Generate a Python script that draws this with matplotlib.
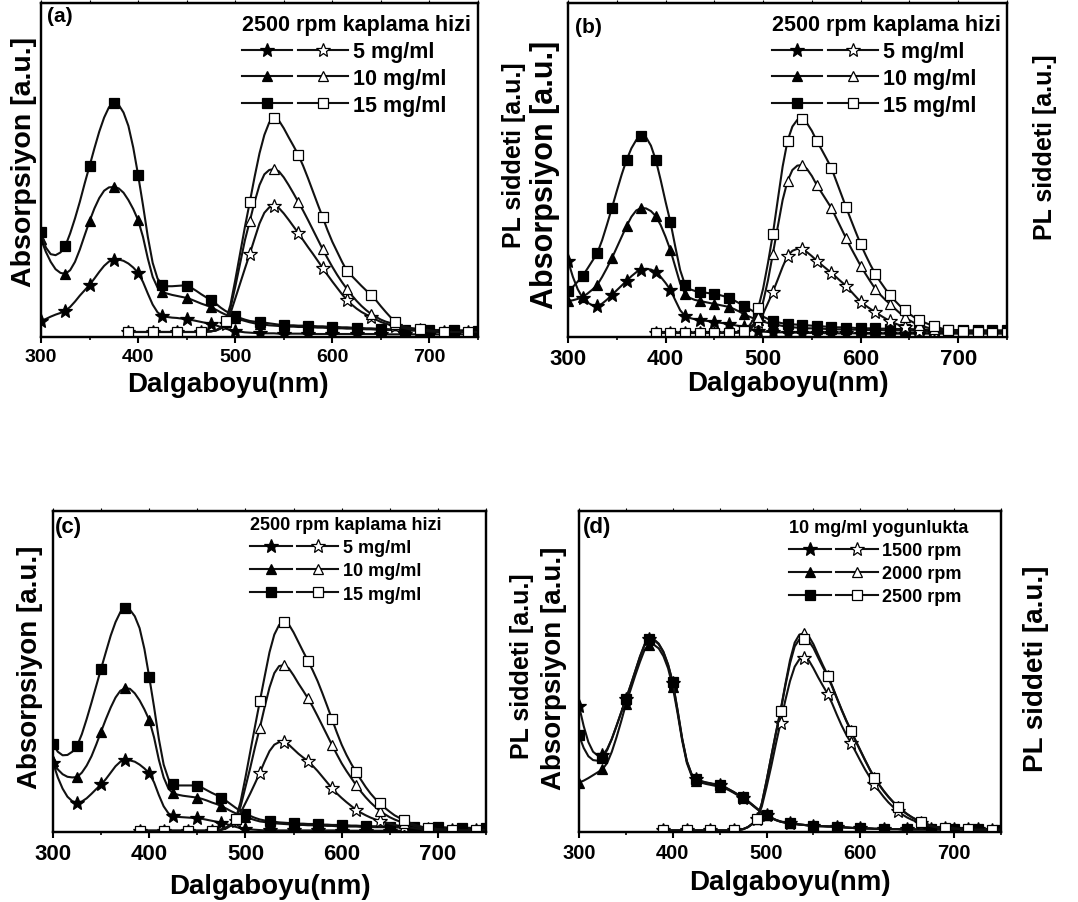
import matplotlib
matplotlib.use("Agg")
import matplotlib.pyplot as plt
from matplotlib.legend_handler import HandlerTuple
from matplotlib.ticker import MultipleLocator

plt.rcParams["font.family"] = ["Liberation Sans", "DejaVu Sans"]
plt.rcParams["font.weight"] = "bold"
plt.rcParams["axes.labelweight"] = "bold"

# wavelength grids (nm)
WL_ABS = list(range(300, 751, 5))
WL_PL = list(range(390, 751, 5))

# values in arbitrary units (per-mille of panel height)
# ---- (a) ----
ABS_5_A = [48, 54, 61, 67, 72, 78, 90, 106, 124, 140, 156, 175, 195, 213, 226,
           231, 232, 228, 220, 208, 192, 165, 130, 97, 74, 63, 60, 58, 57, 55,
           54, 51, 48, 45, 42, 39, 35, 30, 25, 21, 18, 16, 14, 13, 12,
           12, 11, 11, 11, 10, 10, 10, 10, 10, 10, 10, 9, 9, 9, 9,
           9, 9, 9, 9, 9, 9, 9, 9, 9, 9, 9, 8, 8, 8, 8,
           8, 8, 8, 8, 8, 8, 8, 8, 8, 8, 8, 8, 8, 8, 8, 8]
ABS_10_A = [293, 255, 225, 203, 192, 189, 200, 225, 262, 305, 347, 385, 416, 438, 448,
            449, 445, 432, 410, 383, 350, 300, 235, 180, 148, 135, 130, 126, 123, 120,
            117, 112, 106, 100, 95, 90, 82, 74, 67, 61, 57, 52, 48, 44, 41,
            39, 37, 35, 34, 33, 32, 31, 31, 30, 30, 29, 29, 28, 28, 27,
            27, 26, 26, 25, 25, 24, 24, 23, 23, 22, 22, 21, 21, 20, 20,
            20, 19, 19, 19, 18, 18, 18, 18, 18, 17, 17, 17, 17, 16, 16, 16]
ABS_15_A = [314, 268, 248, 245, 253, 272, 310, 355, 405, 460, 512, 565, 615, 657, 688,
            701, 695, 672, 632, 567, 485, 395, 300, 222, 175, 156, 152, 152, 153, 154,
            153, 147, 138, 128, 119, 111, 100, 88, 78, 70, 63, 57, 52, 48, 46,
            45, 43, 41, 39, 37, 36, 35, 35, 34, 34, 33, 33, 32, 32, 31,
            30, 30, 29, 29, 28, 27, 27, 26, 26, 25, 24, 24, 23, 23, 22,
            21, 21, 21, 21, 21, 21, 21, 21, 21, 21, 21, 20, 20, 19, 19, 18]
PL_5_A = [15, 15, 15, 15, 15, 15, 15, 15, 15, 15, 15, 15, 15, 15, 15,
          15, 16, 17, 19, 25, 40, 70, 115, 160, 205, 249, 295, 340, 372, 388,
          392, 386, 370, 351, 331, 311, 290, 269, 249, 228, 207, 186, 166, 147, 128,
          111, 97, 85, 75, 67, 60, 52, 45, 40, 36, 33, 29, 26, 23, 21,
          20, 18, 17, 16, 15, 15, 15, 15, 15, 15, 15, 15, 15]
PL_10_A = [15, 15, 15, 15, 15, 15, 15, 15, 15, 15, 15, 15, 15, 15, 15,
           15, 16, 17, 20, 27, 45, 85, 150, 220, 290, 347, 405, 455, 487, 500,
           503, 496, 478, 455, 430, 404, 378, 350, 321, 292, 263, 236, 210, 186, 164,
           144, 125, 108, 93, 80, 69, 60, 52, 46, 42, 39, 34, 29, 26, 24,
           22, 20, 18, 17, 16, 15, 15, 15, 15, 15, 15, 15, 15]
PL_15_A = [15, 15, 15, 15, 15, 15, 15, 15, 15, 15, 15, 15, 15, 15, 15,
           15, 16, 17, 20, 28, 48, 95, 170, 250, 330, 404, 480, 550, 605, 642,
           656, 648, 625, 598, 572, 545, 512, 475, 436, 397, 359, 320, 285, 255, 225,
           198, 183, 168, 153, 139, 126, 110, 92, 75, 59, 45, 36, 30, 27, 25,
           24, 22, 20, 18, 16, 15, 15, 15, 15, 15, 15, 15, 15]

# ---- (b) ----
ABS_5_B = [228, 180, 143, 117, 103, 95, 93, 100, 112, 126, 140, 154, 168, 182, 194,
           201, 204, 202, 195, 180, 162, 141, 110, 80, 63, 57, 53, 51, 49, 47,
           45, 43, 41, 39, 36, 33, 30, 26, 22, 18, 16, 15, 15, 14, 14,
           13, 13, 13, 12, 12, 12, 12, 12, 11, 11, 11, 11, 11, 11, 11,
           10, 10, 10, 10, 10, 10, 10, 10, 10, 10, 10, 10, 10, 10, 10,
           10, 10, 10, 10, 10, 10, 10, 10, 10, 10, 10, 10, 10, 10, 10, 10]
ABS_10_B = [108, 110, 114, 120, 130, 142, 156, 180, 207, 236, 268, 300, 332, 360, 379,
            386, 385, 377, 362, 335, 300, 260, 210, 160, 129, 117, 111, 108, 105, 102,
            99, 96, 93, 90, 84, 77, 69, 62, 56, 51, 46, 42, 39, 36, 33,
            30, 29, 28, 27, 26, 26, 25, 25, 24, 24, 23, 23, 23, 22, 22,
            22, 21, 21, 21, 21, 20, 20, 20, 20, 20, 19, 19, 19, 19, 19,
            19, 18, 18, 18, 18, 18, 18, 18, 17, 17, 17, 17, 17, 17, 17, 17]
ABS_15_B = [138, 150, 166, 183, 205, 228, 251, 290, 337, 386, 437, 486, 530, 565, 590,
            602, 598, 573, 530, 470, 405, 344, 270, 200, 156, 143, 138, 135, 133, 131,
            129, 126, 122, 117, 110, 102, 93, 85, 77, 69, 61, 54, 48, 44, 41,
            39, 38, 37, 36, 35, 34, 33, 32, 31, 30, 29, 29, 28, 28, 27,
            27, 26, 26, 26, 25, 25, 25, 24, 24, 24, 23, 23, 23, 22, 22,
            22, 22, 21, 21, 21, 21, 21, 20, 20, 20, 20, 20, 20, 20, 20, 20]
PL_5_B = [12, 12, 12, 12, 12, 12, 12, 12, 12, 12, 12, 12, 12, 12, 12,
          12, 13, 14, 16, 22, 32, 45, 70, 102, 135, 172, 210, 243, 258, 264,
          263, 254, 242, 228, 216, 204, 192, 179, 166, 153, 137, 121, 105, 94, 84,
          75, 65, 56, 48, 41, 35, 30, 25, 21, 18, 17, 16, 15, 14, 14,
          13, 13, 13, 13, 13, 13, 13, 13, 13, 13, 13, 13, 13]
PL_10_B = [12, 12, 12, 12, 12, 12, 12, 12, 12, 12, 12, 12, 12, 12, 12,
           12, 13, 14, 17, 25, 38, 60, 105, 170, 249, 330, 410, 467, 500, 513,
           515, 503, 482, 455, 432, 409, 386, 356, 326, 296, 267, 240, 213, 189, 166,
           144, 127, 112, 99, 85, 72, 60, 50, 42, 36, 31, 27, 24, 21, 19,
           18, 17, 16, 15, 14, 14, 13, 13, 13, 13, 13, 13, 13]
PL_15_B = [12, 12, 12, 12, 12, 12, 12, 12, 12, 12, 12, 12, 12, 12, 12,
           12, 13, 14, 18, 30, 52, 87, 145, 222, 308, 410, 510, 587, 630, 650,
           653, 640, 617, 587, 561, 534, 506, 467, 428, 389, 351, 314, 278, 246, 216,
           189, 166, 145, 126, 109, 94, 81, 69, 59, 51, 44, 38, 33, 28, 24,
           21, 20, 19, 18, 17, 16, 15, 14, 14, 13, 13, 13, 13]

# ---- (c) ----
ABS_5_C = [216, 170, 135, 110, 96, 91, 95, 105, 119, 134, 148, 165, 185, 205, 219,
           224, 223, 219, 210, 198, 183, 155, 115, 80, 58, 50, 47, 46, 45, 44,
           43, 41, 38, 35, 32, 29, 25, 20, 16, 12, 10, 8, 7, 6, 5,
           5, 5, 5, 5, 5, 5, 5, 5, 5, 5, 5, 5, 5, 5, 5,
           4, 4, 4, 4, 4, 4, 4, 4, 4, 4, 4, 4, 4, 4, 4,
           4, 4, 4, 4, 4, 4, 4, 4, 4, 4, 4, 4, 4, 4, 4, 4]
ABS_10_C = [221, 195, 180, 172, 170, 171, 185, 207, 236, 273, 313, 352, 388, 419, 440,
            448, 446, 432, 410, 382, 349, 295, 225, 170, 135, 120, 116, 113, 111, 109,
            107, 103, 98, 92, 87, 81, 73, 65, 58, 52, 48, 42, 37, 33, 31,
            29, 27, 26, 25, 24, 23, 22, 22, 21, 21, 20, 20, 19, 19, 18,
            18, 17, 17, 17, 16, 16, 16, 15, 15, 15, 15, 14, 14, 14, 14,
            13, 13, 13, 13, 12, 12, 12, 12, 12, 11, 11, 11, 11, 11, 11, 11]
ABS_15_C = [273, 250, 239, 240, 250, 268, 305, 352, 403, 456, 509, 561, 612, 654, 685,
            697, 692, 672, 635, 570, 483, 390, 290, 210, 165, 148, 145, 145, 145, 145,
            143, 138, 130, 122, 115, 107, 97, 86, 75, 65, 57, 50, 44, 39, 36,
            34, 32, 30, 29, 28, 27, 26, 26, 25, 25, 24, 23, 23, 22, 22,
            21, 21, 20, 20, 19, 19, 18, 18, 18, 17, 17, 17, 17, 16, 16,
            16, 16, 15, 15, 15, 15, 15, 14, 14, 14, 14, 13, 13, 13, 12, 12]
PL_5_C = [4, 4, 4, 4, 4, 4, 4, 4, 4, 4, 4, 4, 4, 4, 4,
          4, 5, 7, 11, 20, 35, 60, 90, 120, 152, 185, 220, 252, 272, 280,
          280, 272, 258, 244, 232, 221, 206, 190, 172, 154, 136, 120, 106, 93, 81,
          69, 60, 52, 45, 39, 34, 30, 26, 22, 19, 17, 14, 12, 10, 9,
          8, 7, 6, 6, 5, 5, 5, 5, 5, 5, 5, 5, 5]
PL_10_C = [4, 4, 4, 4, 4, 4, 4, 4, 4, 4, 4, 4, 4, 4, 4,
           4, 5, 7, 13, 23, 40, 80, 140, 200, 265, 325, 390, 450, 495, 517,
           520, 510, 488, 463, 440, 416, 390, 361, 331, 301, 271, 242, 214, 190, 168,
           146, 126, 108, 92, 78, 65, 55, 46, 39, 33, 29, 24, 19, 15, 13,
           11, 9, 8, 7, 6, 6, 5, 5, 5, 5, 5, 5, 5]
PL_15_C = [4, 4, 4, 4, 4, 4, 4, 4, 4, 4, 4, 4, 4, 4, 4,
           4, 5, 8, 14, 25, 42, 95, 170, 250, 330, 408, 485, 560, 615, 645,
           655, 647, 622, 592, 562, 533, 503, 470, 432, 392, 351, 310, 272, 240, 212,
           187, 163, 140, 120, 103, 89, 75, 63, 52, 44, 37, 30, 24, 19, 15,
           13, 11, 9, 8, 7, 6, 5, 5, 5, 5, 5, 5, 5]

# ---- (d) ----
ABS_1500_D = [393, 330, 280, 250, 238, 239, 258, 290, 330, 372, 413, 456, 500, 545, 583,
              600, 598, 585, 560, 520, 465, 380, 290, 220, 180, 164, 158, 154, 151, 148,
              145, 140, 132, 124, 115, 107, 96, 84, 72, 61, 52, 44, 37, 32, 29,
              27, 25, 23, 22, 20, 19, 18, 18, 17, 17, 16, 15, 14, 13, 12,
              11, 11, 11, 10, 10, 10, 9, 9, 9, 8, 8, 8, 8, 8, 8,
              8, 8, 8, 8, 8, 8, 8, 8, 8, 8, 8, 7, 7, 7, 6, 6]
ABS_2000_D = [154, 160, 168, 177, 186, 195, 215, 250, 295, 345, 398, 443, 488, 530, 568,
              582, 583, 572, 548, 510, 452, 372, 285, 215, 176, 160, 154, 150, 147, 144,
              141, 137, 130, 122, 113, 105, 95, 83, 71, 61, 52, 44, 37, 32, 29,
              27, 25, 23, 22, 20, 19, 18, 18, 17, 17, 16, 15, 14, 13, 12,
              11, 11, 11, 10, 10, 10, 9, 9, 9, 8, 8, 8, 8, 8, 8,
              8, 8, 8, 8, 8, 8, 8, 8, 8, 8, 8, 7, 7, 7, 6, 6]
ABS_2500_D = [301, 262, 236, 224, 222, 232, 255, 290, 331, 373, 414, 457, 502, 547, 585,
              602, 600, 587, 562, 522, 467, 382, 292, 221, 181, 165, 159, 155, 152, 149,
              146, 141, 133, 125, 116, 108, 97, 85, 73, 62, 53, 45, 38, 33, 30,
              28, 26, 24, 22, 21, 20, 19, 18, 18, 17, 16, 15, 14, 13, 12,
              11, 11, 11, 10, 10, 10, 9, 9, 9, 8, 8, 8, 8, 8, 8,
              8, 8, 8, 8, 8, 8, 8, 8, 8, 8, 8, 7, 7, 7, 6, 6]
PL_1500_D = [5, 5, 5, 5, 5, 5, 5, 5, 5, 5, 5, 5, 5, 5, 5,
             5, 6, 9, 15, 25, 40, 80, 140, 205, 275, 341, 410, 470, 515, 538,
             543, 535, 510, 482, 456, 431, 400, 365, 332, 303, 278, 250, 222, 195, 171,
             148, 128, 109, 92, 78, 65, 54, 45, 38, 32, 28, 23, 18, 15, 13,
             12, 11, 10, 9, 8, 8, 7, 7, 7, 7, 7, 7, 7]
PL_2000_D = [5, 5, 5, 5, 5, 5, 5, 5, 5, 5, 5, 5, 5, 5, 5,
             5, 6, 9, 15, 26, 42, 90, 160, 235, 310, 380, 460, 535, 590, 615,
             619, 610, 585, 552, 520, 490, 455, 418, 382, 348, 317, 285, 255, 225, 196,
             170, 148, 128, 110, 94, 80, 67, 56, 46, 38, 32, 26, 20, 16, 14,
             13, 12, 11, 10, 9, 8, 7, 7, 7, 7, 7, 7, 7]
PL_2500_D = [5, 5, 5, 5, 5, 5, 5, 5, 5, 5, 5, 5, 5, 5, 5,
             5, 6, 9, 15, 26, 42, 90, 160, 235, 308, 377, 455, 525, 578, 600,
             602, 595, 573, 543, 514, 486, 452, 416, 380, 346, 315, 283, 253, 223, 195,
             169, 147, 127, 109, 93, 79, 66, 55, 46, 38, 31, 25, 20, 16, 14,
             13, 12, 11, 10, 9, 8, 7, 7, 7, 7, 7, 7, 7]

CONC_LABELS = ["5 mg/ml", "10 mg/ml", "15 mg/ml"]
RPM_LABELS = ["1500 rpm", "2000 rpm", "2500 rpm"]
CONC_TITLE = "2500 rpm kaplama hizi"
RPM_TITLE = "10 mg/ml yogunlukta"

MARKERS = ["*", "^", "s"]
MSIZES = [10, 7.5, 6.5]
LINE_C = "#111111"

FIG_W, FIG_H = 1078, 903

# panel layout: axes box in pixels (left, top, right, bottom) and text placement
PANELS = [
    dict(tag="(a)", abs=[ABS_5_A, ABS_10_A, ABS_15_A], pl=[PL_5_A, PL_10_A, PL_15_A],
         labels=CONC_LABELS, title=CONC_TITLE, step=5,
         box=(41, 4, 478, 338), tick=14, lab_abs=20.5, lab_pl=18, leg=15.5, tagfs=15,
         abs_lab=(-0.009, 0.527), pl_lab=(1.055, 0.548), x_lab=(0.428, -0.102),
         leg_at=(0.46, 0.966), leg_sp=0.27, tag_at=(0.014, 0.99)),
    dict(tag="(b)", abs=[ABS_5_B, ABS_10_B, ABS_15_B], pl=[PL_5_B, PL_10_B, PL_15_B],
         labels=CONC_LABELS, title=CONC_TITLE, step=3,
         box=(568, 4, 1007, 338), tick=16, lab_abs=22, lab_pl=18, leg=15.5, tagfs=15,
         abs_lab=(-0.019, 0.488), pl_lab=(1.059, 0.572), x_lab=(0.501, -0.099),
         leg_at=(0.465, 0.966), leg_sp=0.27, tag_at=(0.016, 0.958)),
    dict(tag="(c)", abs=[ABS_5_C, ABS_10_C, ABS_15_C], pl=[PL_5_C, PL_10_C, PL_15_C],
         labels=CONC_LABELS, title=CONC_TITLE, step=5,
         box=(53, 512, 486, 833), tick=16, lab_abs=20, lab_pl=18, leg=13, tagfs=16,
         abs_lab=(-0.023, 0.517), pl_lab=(1.055, 0.52), x_lab=(0.501, -0.128),
         leg_at=(0.455, 0.985), leg_sp=0.35, tag_at=(0.005, 0.984)),
    dict(tag="(d)", abs=[ABS_1500_D, ABS_2000_D, ABS_2500_D],
         pl=[PL_1500_D, PL_2000_D, PL_2500_D],
         labels=RPM_LABELS, title=RPM_TITLE, step=5,
         box=(579, 512, 1001, 833), tick=14.5, lab_abs=20, lab_pl=20, leg=13, tagfs=16,
         abs_lab=(-0.028, 0.514), pl_lab=(1.052, 0.511), x_lab=(0.5, -0.115),
         leg_at=(0.498, 0.975), leg_sp=0.33, tag_at=(0.01, 0.984)),
]


def draw_panel(fig, p):
    l, t, r, b = p["box"]
    ax = fig.add_axes([l / FIG_W, 1 - b / FIG_H, (r - l) / FIG_W, (b - t) / FIG_H])
    ax2 = ax.twinx()

    handles = []
    for ya, yp, mk, ms in zip(p["abs"], p["pl"], MARKERS, MSIZES):
        assert len(ya) == len(WL_ABS) and len(yp) == len(WL_PL)
        la, = ax.plot(WL_ABS, ya, color=LINE_C, lw=1.5, marker=mk, ms=ms,
                      mfc="black", mec="black", mew=0.9, markevery=p["step"])
        lp, = ax2.plot(WL_PL, yp, color=LINE_C, lw=1.5, marker=mk, ms=ms,
                       mfc="white", mec="black", mew=0.9, markevery=p["step"])
        handles.append((la, lp))

    ax.set_xlim(300, 750)
    ax.set_ylim(0, 1000)
    ax2.set_ylim(0, 1000)
    ax.set_yticks([])
    ax2.set_yticks([])
    ax.xaxis.set_major_locator(MultipleLocator(100))
    ax.xaxis.set_minor_locator(MultipleLocator(50))
    ax.tick_params(axis="x", which="major", direction="out", length=4, width=1.5,
                   pad=4, labelsize=p["tick"])
    ax.tick_params(axis="x", which="minor", direction="out", length=2.5, width=1.2)
    for a in (ax, ax2):
        for s in a.spines.values():
            s.set_linewidth(1.6)

    top = ax.secondary_xaxis("top")
    top.xaxis.set_major_locator(MultipleLocator(50))
    top.tick_params(direction="out", length=2, width=0.8, labeltop=False)

    ax.set_xlabel("Dalgaboyu(nm)", fontsize=20, fontweight="bold")
    ax.xaxis.set_label_coords(*p["x_lab"])
    ax.set_ylabel("Absorpsiyon [a.u.]", fontsize=p["lab_abs"], fontweight="bold")
    ax.yaxis.set_label_coords(*p["abs_lab"])
    ax2.set_ylabel("PL siddeti [a.u.]", fontsize=p["lab_pl"], fontweight="bold")
    ax2.yaxis.set_label_coords(*p["pl_lab"])

    ax2.legend(handles, p["labels"], title=p["title"], loc="upper left",
               bbox_to_anchor=p["leg_at"], frameon=False, alignment="left",
               prop={"size": p["leg"], "weight": "bold"},
               title_fontproperties={"size": p["leg"], "weight": "bold"},
               handler_map={tuple: HandlerTuple(ndivide=None, pad=0.3)},
               handlelength=4.9, handletextpad=0.25, labelspacing=p["leg_sp"],
               borderpad=0, borderaxespad=0, numpoints=1)

    ax2.text(*p["tag_at"], p["tag"], transform=ax2.transAxes, ha="left", va="top",
             fontsize=p["tagfs"], fontweight="bold")


fig = plt.figure(figsize=(FIG_W / 100, FIG_H / 100), dpi=100)
for panel in PANELS:
    draw_panel(fig, panel)
fig.savefig("out.png", dpi=100)
